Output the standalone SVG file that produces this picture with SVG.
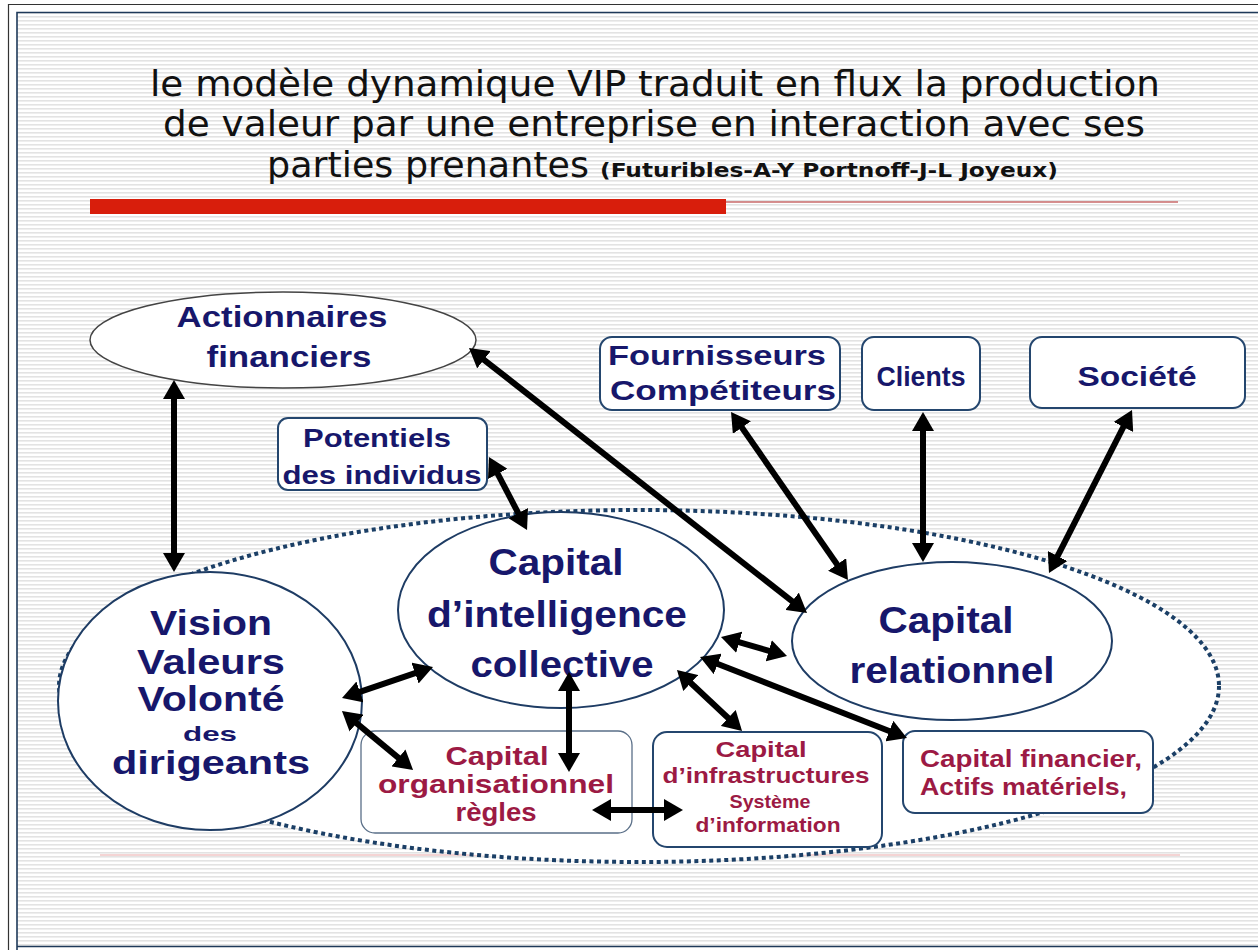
<svg xmlns="http://www.w3.org/2000/svg" width="1258" height="950" viewBox="0 0 1258 950">
<defs>
<pattern id="stripes" width="8" height="4" patternUnits="userSpaceOnUse">
<rect width="8" height="4" fill="#ffffff"/>
<rect y="0" width="8" height="1.6" fill="#e3e3e3"/>
</pattern>
<marker id="ah" markerUnits="userSpaceOnUse" markerWidth="19" markerHeight="22" refX="4" refY="11" orient="auto-start-reverse">
<path d="M0,0 L19,11 L0,22 z" fill="#000"/>
</marker>
<style>
.title{font-family:"DejaVu Sans",Verdana,sans-serif;fill:#111;text-anchor:middle}
.cite{font-family:"DejaVu Sans",Verdana,sans-serif;font-weight:bold;fill:#111}
.nv{font-family:"Liberation Sans",Arial,sans-serif;font-weight:bold;fill:#17176b;text-anchor:middle}
.cr{font-family:"Liberation Sans",Arial,sans-serif;font-weight:bold;fill:#9c1a44;text-anchor:middle}
.ell{fill:#fff;stroke:#1e3c64;stroke-width:2}
.box{fill:#fff;stroke:#24466e;stroke-width:2}
.conn line{stroke:#000;stroke-width:6;marker-start:url(#ah);marker-end:url(#ah)}
</style>
</defs>

<!-- background and frame -->
<rect x="0" y="0" width="1258" height="950" fill="#fff"/>
<rect x="17" y="12.5" width="1241" height="934" fill="url(#stripes)"/>
<path d="M8.5 950 V4.5 H1258" fill="none" stroke="#333" stroke-width="1.2"/>
<path d="M17 950 V12.5 H1258 M17 946.5 H1258" fill="none" stroke="#1f3a5a" stroke-width="1.6"/>

<!-- title -->
<g id="title">
<text class="title" x="655" y="96" font-size="36" textLength="1010" lengthAdjust="spacingAndGlyphs">le modèle dynamique VIP traduit en flux la production</text>
<text class="title" x="654" y="136" font-size="36" textLength="982" lengthAdjust="spacingAndGlyphs">de valeur par une entreprise en interaction avec ses</text>
<text class="title" x="428" y="177" font-size="36" textLength="322" lengthAdjust="spacingAndGlyphs">parties prenantes</text>
<text class="cite" x="600" y="177" font-size="19" textLength="458" lengthAdjust="spacingAndGlyphs">(Futuribles-A-Y Portnoff-J-L Joyeux)</text>
</g>
<rect x="90" y="199" width="636" height="15" fill="#d81e0c"/>
<line x1="726" y1="202" x2="1178" y2="202" stroke="#c86a6a" stroke-width="1.5"/>
<line x1="100" y1="855" x2="1180" y2="855" stroke="#f0c6c6" stroke-width="1.5"/>

<!-- enterprise boundary -->
<g id="entreprise">
<ellipse cx="639" cy="686" rx="580" ry="176" fill="#fff" stroke="#1b3f66" stroke-width="4" stroke-dasharray="4 3.5"/>
</g>

<g id="actionnaires">
<ellipse cx="283" cy="340" rx="193" ry="48" fill="#fff" stroke="#444" stroke-width="1.5"/>
<text class="nv" x="282" y="327" font-size="29" textLength="211" lengthAdjust="spacingAndGlyphs">Actionnaires</text>
<text class="nv" x="289" y="367" font-size="29" textLength="165" lengthAdjust="spacingAndGlyphs">financiers</text>
</g>

<g id="potentiels">
<rect class="box" x="278" y="418" width="209" height="72" rx="10"/>
<text class="nv" x="377" y="447" font-size="25" textLength="148" lengthAdjust="spacingAndGlyphs">Potentiels</text>
<text class="nv" x="382" y="484" font-size="25" textLength="199" lengthAdjust="spacingAndGlyphs">des individus</text>
</g>

<g id="fournisseurs">
<rect class="box" x="600" y="337" width="240" height="73" rx="12"/>
<text class="nv" x="717" y="365" font-size="27" textLength="218" lengthAdjust="spacingAndGlyphs">Fournisseurs</text>
<text class="nv" x="723" y="400" font-size="27" textLength="226" lengthAdjust="spacingAndGlyphs">Compétiteurs</text>
</g>

<g id="clients">
<rect class="box" x="862" y="337" width="118" height="73" rx="12"/>
<text class="nv" x="921" y="386" font-size="27" textLength="89" lengthAdjust="spacingAndGlyphs">Clients</text>
</g>

<g id="societe">
<rect class="box" x="1030" y="337" width="215" height="71" rx="12"/>
<text class="nv" x="1137" y="386" font-size="27" textLength="119" lengthAdjust="spacingAndGlyphs">Société</text>
</g>

<g id="vision">
<ellipse class="ell" cx="210" cy="701" rx="152" ry="129"/>
<text class="nv" x="211" y="635" font-size="35" textLength="122" lengthAdjust="spacingAndGlyphs">Vision</text>
<text class="nv" x="211" y="674" font-size="35" textLength="148" lengthAdjust="spacingAndGlyphs">Valeurs</text>
<text class="nv" x="211" y="711" font-size="35" textLength="147" lengthAdjust="spacingAndGlyphs">Volonté</text>
<text class="nv" x="210" y="741" font-size="21" textLength="54" lengthAdjust="spacingAndGlyphs">des</text>
<text class="nv" x="211" y="774" font-size="34" textLength="198" lengthAdjust="spacingAndGlyphs">dirigeants</text>
</g>

<g id="intelligence">
<ellipse class="ell" cx="561" cy="610" rx="163" ry="98"/>
<text class="nv" x="556" y="575" font-size="37" textLength="135" lengthAdjust="spacingAndGlyphs">Capital</text>
<text class="nv" x="557" y="627" font-size="37" textLength="260" lengthAdjust="spacingAndGlyphs">d’intelligence</text>
<text class="nv" x="562" y="677" font-size="37" textLength="183" lengthAdjust="spacingAndGlyphs">collective</text>
</g>

<g id="relationnel">
<ellipse class="ell" cx="952" cy="641" rx="160" ry="79"/>
<text class="nv" x="946" y="633" font-size="37" textLength="135" lengthAdjust="spacingAndGlyphs">Capital</text>
<text class="nv" x="952" y="683" font-size="37" textLength="205" lengthAdjust="spacingAndGlyphs">relationnel</text>
</g>

<g id="organisationnel">
<rect x="361" y="731" width="271" height="102" rx="14" fill="#fff" stroke="#5a6f88" stroke-width="1.3"/>
<text class="cr" x="497" y="765" font-size="26" textLength="103" lengthAdjust="spacingAndGlyphs">Capital</text>
<text class="cr" x="496" y="793" font-size="26" textLength="236" lengthAdjust="spacingAndGlyphs">organisationnel</text>
<text class="cr" x="496" y="821" font-size="26" textLength="81" lengthAdjust="spacingAndGlyphs">règles</text>
</g>

<g id="infrastructures">
<rect class="box" x="653" y="732" width="229" height="115" rx="14"/>
<text class="cr" x="761" y="757" font-size="22" textLength="91" lengthAdjust="spacingAndGlyphs">Capital</text>
<text class="cr" x="766" y="783" font-size="22" textLength="207" lengthAdjust="spacingAndGlyphs">d’infrastructures</text>
<text class="cr" x="770" y="808" font-size="19" textLength="81" lengthAdjust="spacingAndGlyphs">Système</text>
<text class="cr" x="768" y="832" font-size="21" textLength="145" lengthAdjust="spacingAndGlyphs">d’information</text>
</g>

<g id="financier">
<rect class="box" x="903" y="731" width="250" height="82" rx="12"/>
<text class="cr" x="1031" y="767" font-size="24" textLength="222" lengthAdjust="spacingAndGlyphs">Capital financier,</text>
<text class="cr" x="920" y="795" font-size="24" textLength="207" lengthAdjust="spacingAndGlyphs" style="text-anchor:start">Actifs matériels,</text>
</g>

<g id="connectors" class="conn">
<line x1="174" y1="395" x2="174" y2="557"/>
<line x1="480.8" y1="357.3" x2="795.2" y2="603.7"/>
<line x1="495.9" y1="470.3" x2="520.1" y2="516.7"/>
<line x1="739.6" y1="424.3" x2="839.4" y2="567.7"/>
<line x1="923" y1="427" x2="923" y2="547"/>
<line x1="1125.2" y1="423.4" x2="1055.8" y2="559.6"/>
<line x1="356.2" y1="693.2" x2="418.8" y2="671.8"/>
<line x1="353.5" y1="720.6" x2="401.5" y2="760.4"/>
<line x1="569" y1="687" x2="569" y2="757"/>
<line x1="735.4" y1="641.1" x2="772.6" y2="651.9"/>
<line x1="687.9" y1="680.3" x2="731.1" y2="720.7"/>
<line x1="714" y1="662.5" x2="893" y2="732.5"/>
<line x1="607" y1="810" x2="668" y2="810"/>
</g>
</svg>
